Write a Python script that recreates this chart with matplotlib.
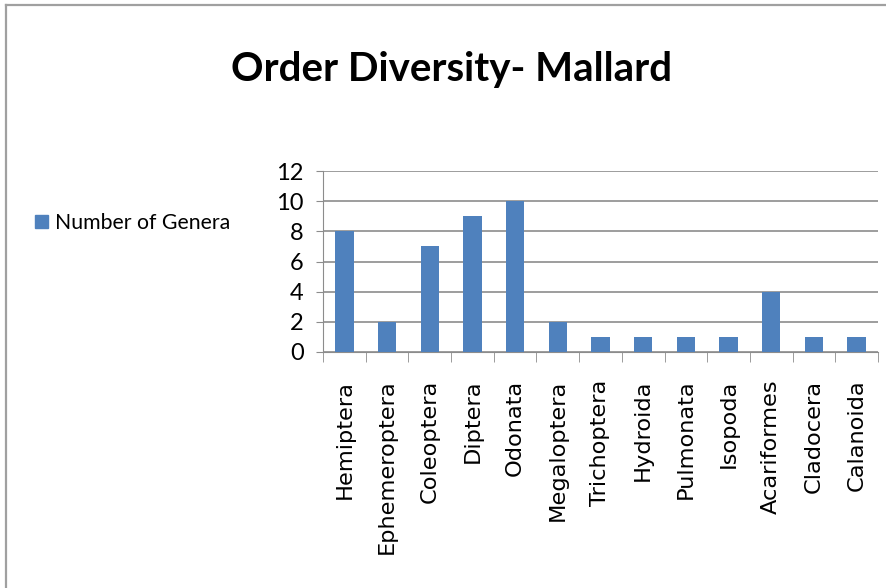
import matplotlib
matplotlib.use('Agg')
import matplotlib.pyplot as plt
from matplotlib.lines import Line2D
from matplotlib.patches import Patch

orders = ['Hemiptera', 'Ephemeroptera', 'Coleoptera', 'Diptera', 'Odonata',
          'Megaloptera', 'Trichoptera', 'Hydroida', 'Pulmonata', 'Isopoda',
          'Acariformes', 'Cladocera', 'Calanoida']
genera = [8, 2, 7, 9, 10, 2, 1, 1, 1, 1, 4, 1, 1]
yticks = [0, 2, 4, 6, 8, 10, 12]

bar_color = '#4F81BD'
grid_color = '#8C8C8C'
narrow = ['Lato', 'DejaVu Sans']

fig = plt.figure(figsize=(8.87, 5.88), dpi=100)
W, H = 887, 588
ax = fig.add_axes([323 / W, 1 - 352 / H, (878 - 323) / W, (352 - 171) / H])

x = list(range(len(orders)))
ax.bar(x, genera, width=0.43, color=bar_color, zorder=3)
ax.set_xlim(-0.5, len(orders) - 0.5)
ax.set_ylim(0, 12)
ax.set_yticks(yticks)
ax.set_yticklabels([str(v) for v in yticks], fontsize=17, family=narrow)
ax.yaxis.grid(True, color=grid_color, linewidth=1.2, zorder=0)

# category labels centred under each bar, boundary ticks between them
ax.set_xticks(x)
ax.set_xticklabels(orders, rotation=90, fontsize=16.2, family='DejaVu Sans')
ax.tick_params(axis='x', length=0, pad=20)
ax.set_xticks([i - 0.5 for i in range(len(orders) + 1)], minor=True)
ax.tick_params(axis='x', which='minor', length=7, color=grid_color)
ax.tick_params(axis='y', length=5, color=grid_color, pad=9)

for s in ['top', 'right']:
    ax.spines[s].set_visible(False)
ax.spines['left'].set_color(grid_color)
ax.spines['bottom'].set_color(grid_color)

fig.text(452 / W, 1 - 70 / H, 'Order Diversity- Mallard', ha='center', va='center',
         fontsize=29, fontweight='bold', family=narrow)

fig.legend(handles=[Patch(color=bar_color)], labels=['Number of Genera'],
           loc='center left', bbox_to_anchor=(35 / W, 1 - 223 / H), frameon=False,
           prop={'family': narrow, 'size': 15.3}, handlelength=0.6, handleheight=0.6,
           handletextpad=0.35, borderaxespad=0, borderpad=0)

# chart border (left and top edges visible)
fig.add_artist(Line2D([6.5 / W, 6.5 / W], [0, 1 - 5 / H], color='#A0A0A0', linewidth=1.6,
                      transform=fig.transFigure))
fig.add_artist(Line2D([6.5 / W, 1], [1 - 5 / H, 1 - 5 / H], color='#A0A0A0', linewidth=1.6,
                      transform=fig.transFigure))

plt.savefig('out.png', dpi=100)
